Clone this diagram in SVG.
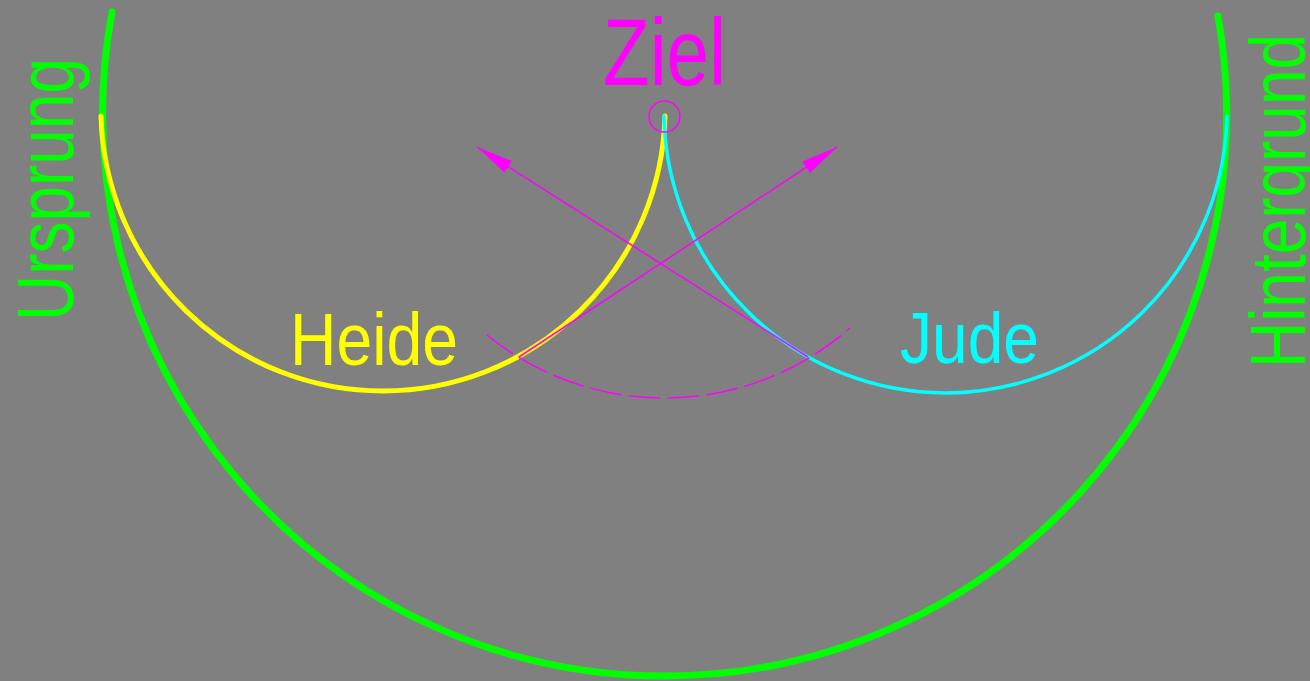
<svg xmlns="http://www.w3.org/2000/svg" width="1310" height="681" viewBox="0 0 1310 681">
<style>
.lbl{font-family:"Liberation Sans Narrow","Liberation Sans",Arial,sans-serif;}
.arc{fill:none;stroke-linecap:round;}
.mg{fill:none;stroke:#ff00ff;stroke-width:1.5;}
</style>
<defs>
<marker id="ah" markerUnits="userSpaceOnUse" markerWidth="40" markerHeight="20" viewBox="-36 -8 38 16" refX="0" refY="0" orient="auto">
<path d="M0,0 L-35,-6.5 L-35,6.5 Z" fill="#ff00ff"/>
</marker>
</defs>
<rect width="1310" height="681" fill="#808080"/>
<g id="ursprung-arc">
<path class="arc" d="M112,12 A562,562 0 0 0 665,676 A562,562 0 0 0 1218,16" stroke="#00ff00" stroke-width="7"/>
</g>
<g id="heide-arc">
<path class="arc" d="M101,116 A282,282 0 0 0 383,391 A282,282 0 0 0 665,116" stroke="#ffff00" stroke-width="5"/>
</g>
<g id="jude-arc">
<path class="arc" d="M664,116 A282,282 0 0 0 945.5,393 A282,282 0 0 0 1227,116" stroke="#00ffff" stroke-width="3.5"/>
</g>
<g id="ziel-node">
<circle cx="664.5" cy="116.5" r="15.5" class="mg"/>
</g>
<g id="connectors">
<path class="mg" d="M487,335 A281,281 0 0 0 850,328" stroke-dasharray="32,7"/>
<line class="mg" x1="808" y1="357" x2="477" y2="147" marker-end="url(#ah)"/>
<line class="mg" x1="519" y1="357" x2="837" y2="147" marker-end="url(#ah)"/>
</g>
<g id="labels">
<text class="lbl" x="603" y="85" font-size="94" fill="#ff00ff" textLength="123" lengthAdjust="spacingAndGlyphs">Ziel</text>
<text class="lbl" x="290" y="365" font-size="74" fill="#ffff00" textLength="168" lengthAdjust="spacingAndGlyphs">Heide</text>
<text class="lbl" x="900" y="363" font-size="72" fill="#00ffff" textLength="139" lengthAdjust="spacingAndGlyphs">Jude</text>
<text class="lbl" transform="translate(73,321) rotate(-90)" font-size="80" fill="#00ff00" textLength="263" lengthAdjust="spacingAndGlyphs">Ursprung</text>
<text class="lbl" transform="translate(1305,368) rotate(-90)" font-size="77" fill="#00ff00" textLength="334" lengthAdjust="spacingAndGlyphs">Hintergrund</text>
</g>
</svg>
